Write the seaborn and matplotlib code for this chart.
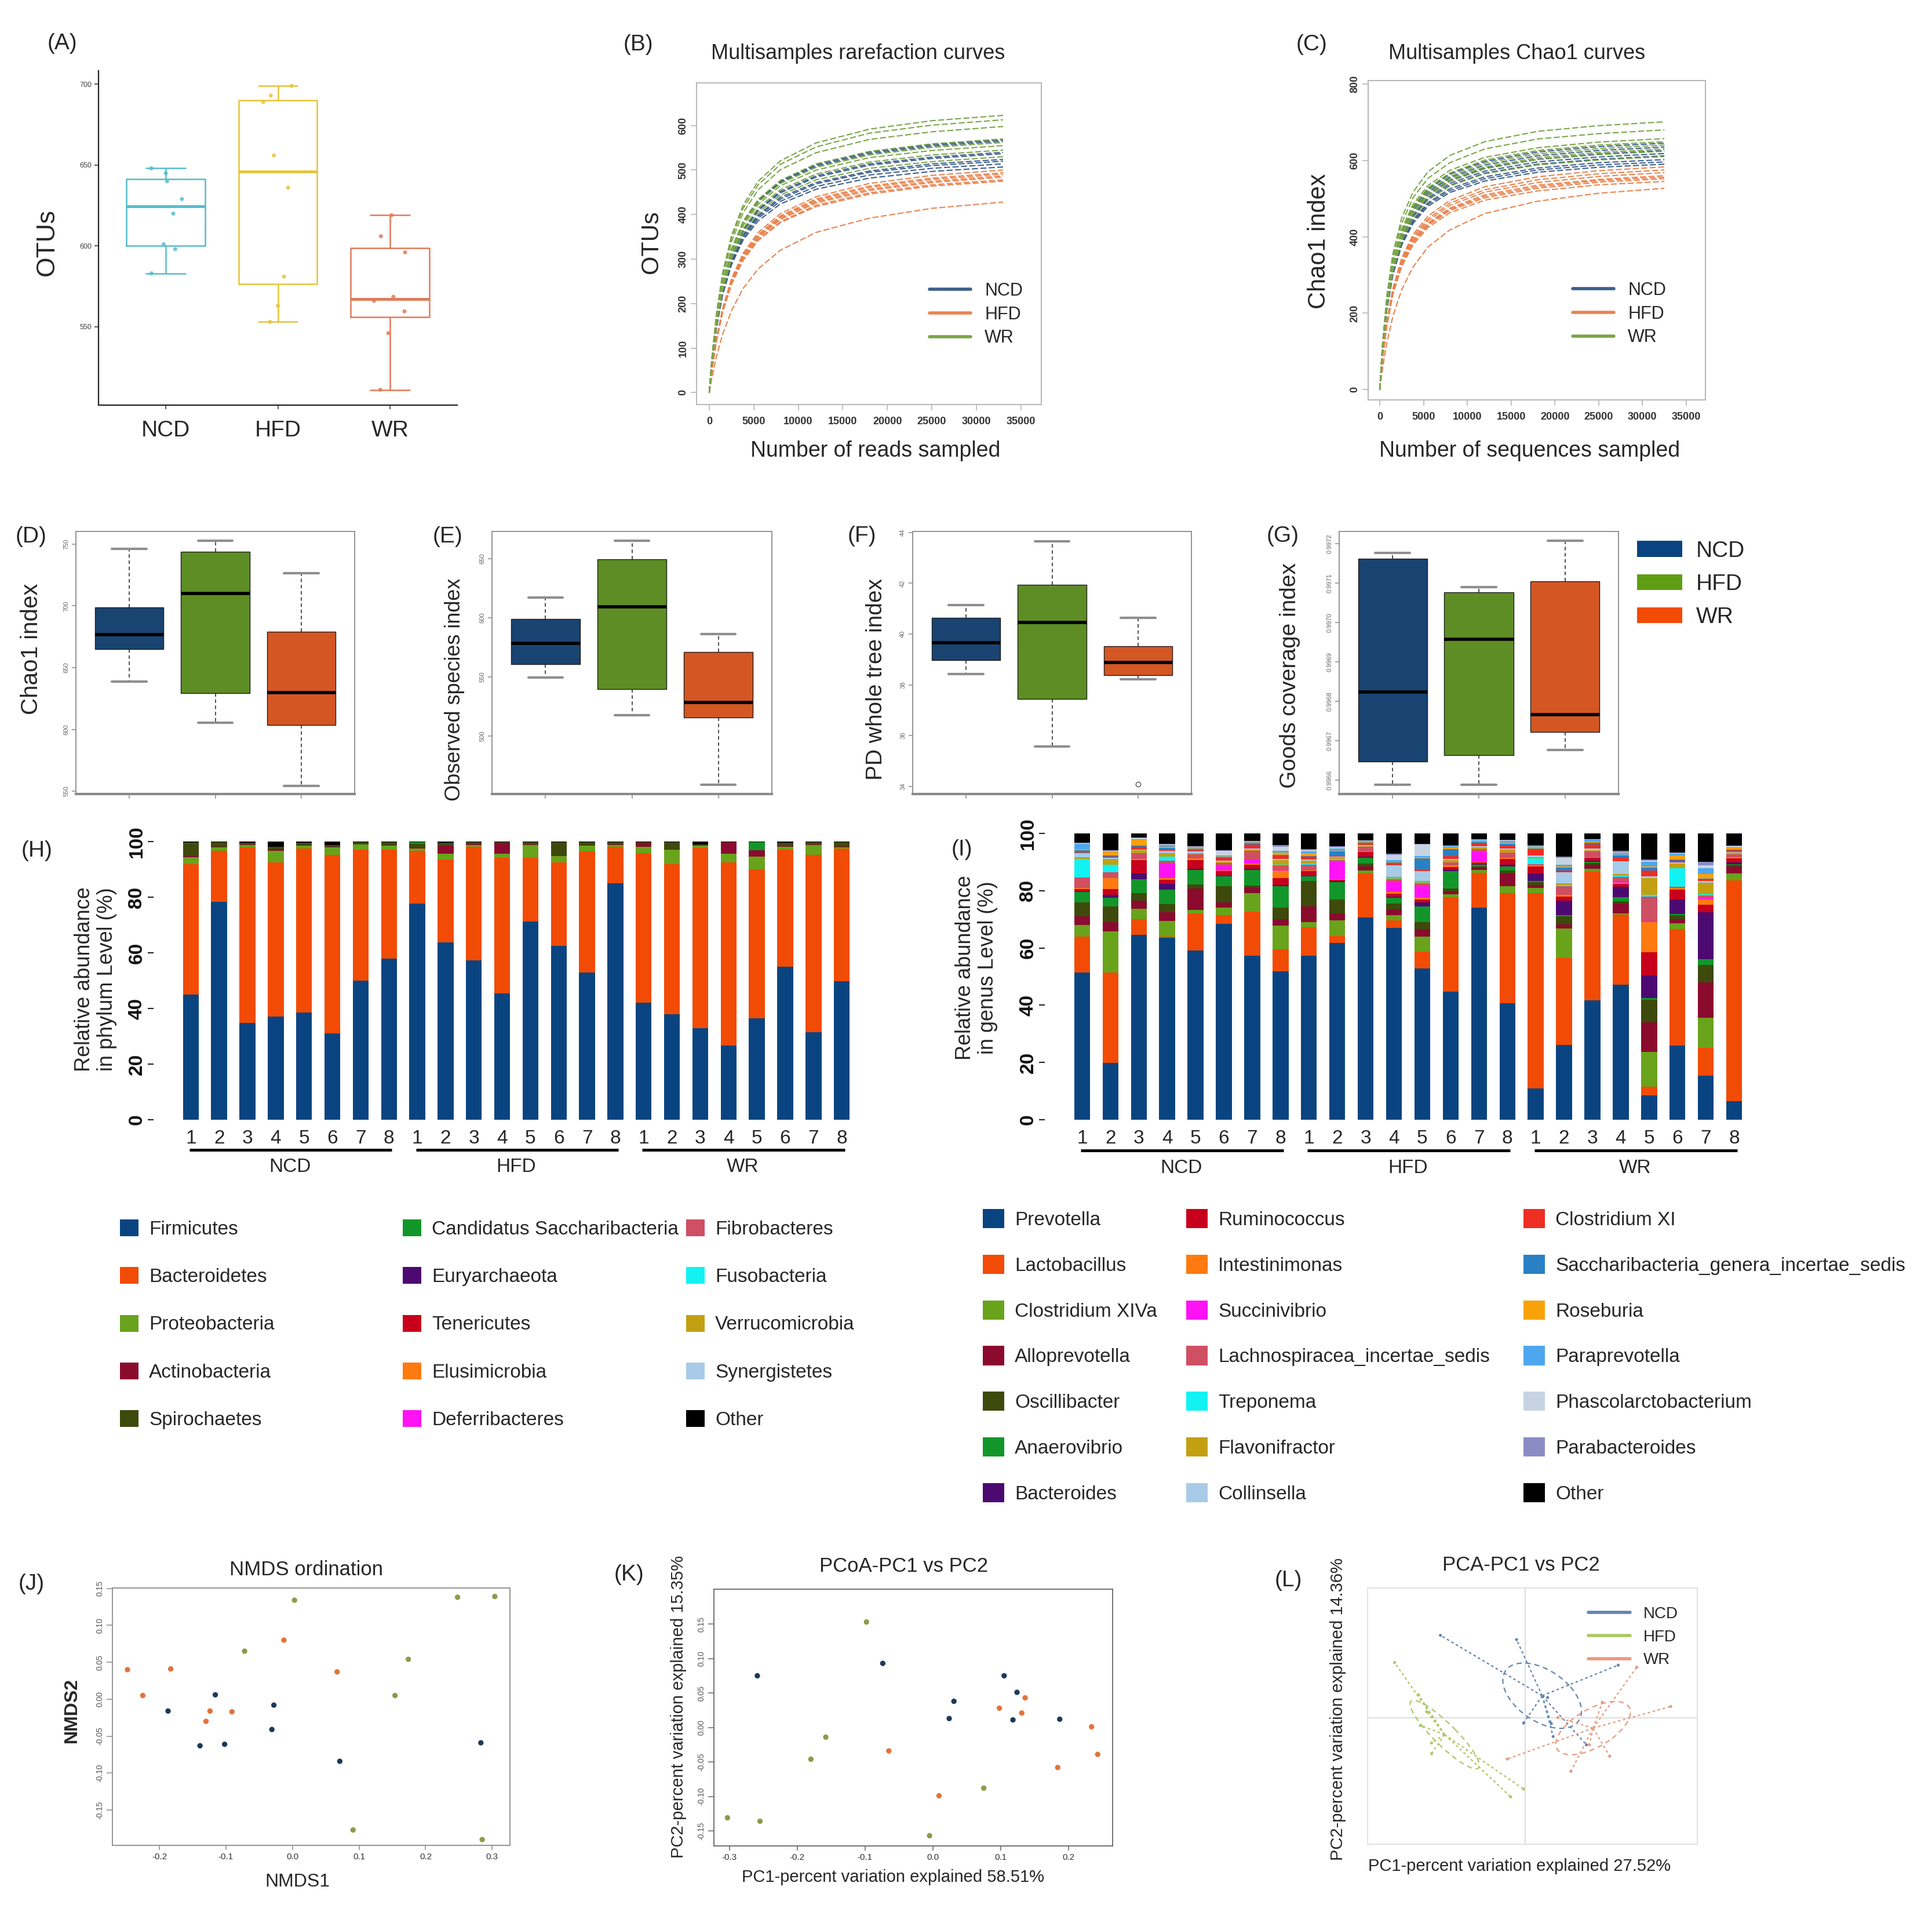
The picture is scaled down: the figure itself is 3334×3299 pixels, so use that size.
import numpy as np
import pandas as pd
import matplotlib
matplotlib.use("Agg")
import matplotlib.pyplot as plt
from matplotlib.lines import Line2D
from matplotlib.patches import Patch, Ellipse
import seaborn as sns

sns.set_theme(style="white")
plt.rcParams['font.family'] = ['Liberation Sans', 'DejaVu Sans']
plt.rcParams['axes.unicode_minus'] = False

groups = ['NCD', 'HFD', 'WR']

# ---------------- (A) OTUs ----------------
otus_ncd = [583, 598, 601, 620, 629, 640, 645, 648]
otus_hfd = [553, 563, 581, 636, 656, 689, 693, 699]
otus_wr = [511, 546, 559.5, 566, 568.5, 596, 606, 619]

# ---------------- (B) rarefaction curves ----------------
reads_b = [0, 300, 800, 1500, 2500, 3800, 5500, 8000, 12000, 18000, 25000, 33000]
rare_ncd = [
    [0, 73, 161, 245, 322, 384, 433, 475, 512, 540, 557, 568],
    [0, 72, 160, 244, 320, 382, 431, 473, 509, 537, 554, 565],
    [0, 69, 153, 233, 306, 365, 411, 452, 487, 514, 529, 540],
    [0, 69, 153, 232, 304, 363, 409, 449, 484, 511, 526, 537],
    [0, 67, 149, 226, 297, 354, 399, 439, 472, 498, 514, 524],
    [0, 67, 148, 225, 295, 352, 396, 435, 469, 495, 510, 520],
    [0, 66, 146, 222, 291, 347, 392, 430, 463, 489, 504, 514],
    [0, 65, 144, 219, 287, 343, 386, 424, 457, 482, 497, 507]]
rare_hfd = [
    [0, 53, 121, 189, 256, 313, 360, 402, 440, 470, 488, 500],
    [0, 52, 119, 187, 253, 309, 355, 397, 435, 464, 482, 494],
    [0, 52, 118, 186, 251, 307, 353, 395, 432, 461, 479, 491],
    [0, 51, 117, 184, 249, 304, 350, 392, 429, 457, 475, 487],
    [0, 51, 117, 183, 248, 303, 348, 389, 426, 454, 472, 484],
    [0, 50, 115, 181, 245, 299, 344, 384, 421, 449, 467, 478],
    [0, 50, 114, 180, 243, 297, 342, 382, 418, 446, 464, 475],
    [0, 33, 80, 131, 184, 234, 278, 320, 360, 392, 414, 428]]
rare_wr = [
    [0, 80, 177, 269, 353, 421, 475, 521, 561, 592, 611, 623],
    [0, 78, 174, 265, 348, 414, 467, 513, 552, 583, 601, 613],
    [0, 77, 170, 258, 339, 404, 456, 501, 539, 569, 586, 598],
    [0, 73, 162, 246, 323, 385, 434, 477, 514, 542, 559, 570],
    [0, 72, 160, 243, 319, 380, 428, 470, 506, 534, 551, 562],
    [0, 71, 158, 240, 315, 375, 423, 465, 500, 528, 544, 555],
    [0, 70, 155, 235, 309, 368, 415, 456, 491, 518, 534, 545],
    [0, 68, 151, 229, 301, 358, 404, 444, 478, 504, 519, 530]]

# ---------------- (C) Chao1 curves ----------------
reads_c = [0, 300, 800, 1500, 2500, 3800, 5500, 8000, 12000, 18000, 25000, 32500]
chao_ncd = [
    [0, 107, 226, 328, 413, 476, 524, 564, 597, 622, 636, 645],
    [0, 105, 222, 323, 406, 469, 516, 555, 588, 612, 626, 635],
    [0, 104, 219, 318, 401, 462, 509, 547, 580, 603, 617, 626],
    [0, 103, 216, 314, 396, 456, 502, 540, 572, 596, 609, 618],
    [0, 102, 214, 311, 392, 452, 498, 535, 567, 590, 603, 612],
    [0, 100, 211, 306, 385, 444, 489, 526, 557, 580, 594, 602],
    [0, 99, 209, 303, 381, 440, 485, 521, 552, 575, 588, 596],
    [0, 98, 206, 300, 378, 435, 480, 516, 546, 569, 582, 590]]
chao_hfd = [
    [0, 80, 177, 265, 344, 406, 454, 495, 531, 557, 573, 583],
    [0, 79, 174, 262, 339, 400, 447, 488, 523, 549, 565, 575],
    [0, 78, 172, 258, 335, 395, 442, 482, 517, 542, 558, 568],
    [0, 77, 170, 255, 330, 390, 436, 475, 510, 535, 550, 560],
    [0, 77, 168, 253, 328, 387, 433, 472, 506, 531, 547, 556],
    [0, 76, 167, 251, 326, 384, 429, 469, 502, 527, 543, 552],
    [0, 75, 165, 248, 322, 379, 424, 463, 496, 520, 536, 545],
    [0, 52, 121, 192, 261, 321, 373, 418, 461, 493, 514, 527]]
chao_wr = [
    [0, 116, 245, 356, 449, 517, 570, 613, 649, 676, 691, 701],
    [0, 113, 238, 345, 435, 502, 553, 594, 630, 656, 670, 680],
    [0, 109, 230, 334, 420, 485, 534, 574, 608, 633, 648, 657],
    [0, 108, 227, 330, 415, 479, 528, 567, 601, 626, 640, 649],
    [0, 106, 224, 325, 410, 472, 520, 559, 593, 617, 631, 640],
    [0, 105, 220, 320, 403, 465, 512, 551, 583, 607, 621, 630],
    [0, 104, 218, 317, 399, 461, 507, 545, 578, 602, 615, 624],
    [0, 101, 214, 310, 390, 450, 496, 533, 565, 588, 601, 610]]

# ---------------- (D-G) alpha diversity ----------------
chao1_ncd = [638.8, 664, 665.3, 674, 679.2, 698.5, 700.1, 746]
chao1_hfd = [605.4, 627, 630.2, 700, 720, 742, 750, 752.8]
chao1_wr = [554.3, 601, 604.6, 622, 638, 676, 688.5, 726.5]
obs_ncd = [549.4, 560, 561, 574, 582, 598, 601.5, 617]
obs_hfd = [517.5, 537, 540.2, 598, 620.6, 648, 654, 664.9]
obs_wr = [458.8, 514, 516.1, 524, 532.2, 568, 579.5, 586.2]
pd_ncd = [38.42, 38.9, 39.0, 39.5, 39.8, 40.6, 40.8, 41.13]
pd_hfd = [35.58, 37.3, 37.5, 40.1, 40.8, 41.9, 42.1, 43.66]
pd_wr = [34.09, 38.23, 38.44, 38.8, 38.98, 39.5, 39.62, 40.63]
goods_ncd = [0.996589, 0.996640, 0.996649, 0.996800, 0.996848, 0.997160, 0.997170, 0.997177]
goods_hfd = [0.996589, 0.996660, 0.996664, 0.996940, 0.996976, 0.997074, 0.997082, 0.997090]
goods_wr = [0.996677, 0.996718, 0.996723, 0.996755, 0.996777, 0.997100, 0.997116, 0.997207]

# ---------------- (H) phylum level (%) ----------------
sample_labels = ['1', '2', '3', '4', '5', '6', '7', '8'] * 3
p_firmicutes = [45.0, 78.4, 34.7, 37.0, 38.6, 31.0, 50.0, 58.0, 77.8, 63.8, 57.2, 45.5,
                71.2, 62.6, 52.9, 84.9, 42.0, 38.0, 32.9, 26.6, 36.5, 55.1, 31.4, 49.8]
p_bacteroidetes = [46.8, 18.3, 63.2, 55.4, 58.9, 64.2, 47.1, 39.1, 18.9, 29.8, 40.9, 48.7,
                   23.0, 30.0, 43.6, 13.3, 53.9, 53.8, 64.8, 65.8, 53.6, 42.0, 63.8, 47.6]
p_proteobacteria = [2.5, 1.3, 0.8, 4.3, 1.0, 2.8, 1.8, 1.4, 0.8, 2.0, 0.7, 1.5,
                    4.5, 2.2, 2.0, 0.5, 2.2, 5.3, 0.8, 3.3, 4.4, 1.0, 3.6, 0.5]
p_actinobacteria = [0.5, 0.2, 0.3, 0.5, 0.2, 0.2, 0.1, 0.2, 0.2, 3.0, 0.3, 3.8,
                    0.2, 0.2, 0.2, 0.3, 1.4, 0.2, 0.3, 4.0, 2.4, 0.2, 0.2, 0.2]
p_spirochaetes = [4.5, 1.5, 0.5, 1.0, 0.8, 0.5, 0.7, 1.0, 1.5, 1.0, 0.6, 0.2,
                  0.8, 4.7, 1.0, 0.7, 0.2, 2.4, 0.2, 0.0, 0.0, 1.2, 0.7, 1.6]
p_saccharibacteria = [0.2, 0, 0, 0, 0, 0, 0, 0, 0.5, 0, 0, 0,
                      0, 0, 0, 0, 0, 0, 0, 0, 2.8, 0, 0, 0]
p_euryarchaeota = [0.0] * 24
p_tenericutes = [0.0] * 24
p_elusimicrobia = [0.0] * 24
p_deferribacteres = [0.0] * 24
p_fibrobacteres = [0.0] * 24
p_fusobacteria = [0.0] * 24
p_verrucomicrobia = [0.0] * 24
p_synergistetes = [0.0] * 24
p_other = [0.5, 0.3, 0.5, 1.8, 0.5, 1.3, 0.3, 0.3, 0.3, 0.4, 0.3, 0.3,
           0.3, 0.3, 0.3, 0.3, 0.3, 0.3, 1.0, 0.3, 0.3, 0.5, 0.3, 0.3]

phyla = ['Firmicutes', 'Bacteroidetes', 'Proteobacteria', 'Actinobacteria', 'Spirochaetes',
         'Candidatus Saccharibacteria', 'Euryarchaeota', 'Tenericutes', 'Elusimicrobia',
         'Deferribacteres', 'Fibrobacteres', 'Fusobacteria', 'Verrucomicrobia',
         'Synergistetes', 'Other']
phyla_values = [p_firmicutes, p_bacteroidetes, p_proteobacteria, p_actinobacteria,
                p_spirochaetes, p_saccharibacteria, p_euryarchaeota, p_tenericutes,
                p_elusimicrobia, p_deferribacteres, p_fibrobacteres, p_fusobacteria,
                p_verrucomicrobia, p_synergistetes, p_other]
phyla_colors = ['#0a4480', '#f24b05', '#69a31c', '#8a0b2e', '#3e4a0c', '#12962a', '#4c0a70',
                '#c8001c', '#ff7a10', '#ff12f4', '#cf4f63', '#12f2f2', '#c2a012', '#a8cbe8',
                '#000000']

# ---------------- (I) genus level (%) ----------------
g_prevotella = [51.4, 19.8, 64.6, 63.6, 59.2, 68.4, 57.2, 51.8, 57.2, 61.8, 70.6, 67.0,
                52.8, 44.8, 74.0, 40.6, 11.0, 26.2, 41.6, 47.2, 8.6, 26.0, 15.4, 6.4]
g_lactobacillus = [12.6, 31.6, 5.4, 0.4, 12.8, 3.0, 15.4, 7.8, 10.0, 2.4, 15.4, 2.6,
                   6.0, 33.0, 12.2, 38.6, 68.2, 30.2, 45.0, 24.4, 3.0, 40.6, 9.6, 77.2]
g_clos_xiva = [4.0, 14.4, 3.6, 5.4, 1.2, 2.6, 6.6, 8.2, 1.8, 5.4, 1.0, 1.9,
               5.2, 1.0, 1.0, 2.3, 1.8, 10.4, 1.0, 0.5, 12.0, 2.0, 10.6, 2.4]
g_alloprevotella = [3.0, 3.2, 3.0, 3.0, 7.5, 2.0, 1.8, 2.2, 5.5, 2.4, 1.5, 2.0,
                    2.5, 1.0, 0.8, 4.5, 1.0, 1.5, 1.5, 3.4, 10.4, 1.5, 12.4, 2.5]
g_oscillibacter = [5.0, 5.5, 2.5, 3.0, 1.5, 5.5, 0.8, 4.0, 9.0, 5.0, 1.0, 2.0,
                   2.5, 1.0, 0.5, 1.0, 1.0, 2.7, 0.5, 0.8, 8.0, 1.3, 6.0, 0.5]
g_anaerovibrio = [3.5, 3.0, 5.0, 5.0, 5.0, 3.5, 5.5, 7.5, 1.5, 6.0, 2.0, 2.0,
                  5.5, 6.0, 0.5, 1.5, 0.5, 0.5, 0.5, 1.5, 0.5, 0.5, 2.0, 0.3]
g_bacteroides = [0.3, 1.0, 2.0, 2.0, 0.5, 0.3, 0.3, 0.5, 0.3, 0.3, 0.5, 0.5,
                 1.5, 0.5, 0.3, 0.5, 2.5, 5.0, 0.3, 3.5, 8.0, 5.0, 16.5, 0.5]
g_ruminococcus = [0.8, 2.0, 4.5, 1.5, 3.0, 1.5, 1.5, 2.5, 1.5, 0.5, 1.5, 1.0,
                  1.0, 1.0, 0.5, 2.0, 2.5, 1.5, 1.0, 1.0, 8.0, 3.5, 2.5, 1.5]
g_intestinimonas = [0.3, 4.0, 0.5, 0.5, 0.5, 0.3, 0.3, 2.5, 0.3, 0.3, 0.3, 0.5,
                    0.5, 0.5, 0.3, 0.5, 0.3, 0.5, 0.3, 0.5, 10.5, 0.5, 2.0, 0.5]
g_succinivibrio = [0.2, 0.0, 0.0, 5.0, 0.0, 1.5, 1.5, 0.3, 0.0, 6.0, 0.0, 3.5,
                   4.0, 0.0, 3.5, 0.3, 0.0, 0.0, 0.0, 0.5, 0.5, 0.0, 0.3, 0.0]
g_lachnospiracea = [3.5, 2.0, 2.0, 1.0, 1.5, 1.0, 3.0, 1.5, 2.0, 0.5, 1.5, 1.0,
                    1.0, 1.0, 1.0, 1.5, 0.5, 3.0, 2.0, 1.5, 8.5, 0.5, 1.0, 1.0]
g_treponema = [6.5, 2.5, 0.0, 1.5, 0.0, 0.0, 0.0, 0.3, 0.3, 0.5, 0.0, 0.3,
               0.3, 0.0, 0.0, 0.0, 2.0, 0.5, 0.0, 0.5, 0.5, 6.5, 0.5, 0.0]
g_flavonifractor = [0.5, 2.0, 1.0, 1.2, 0.5, 0.5, 0.5, 1.5, 1.0, 0.5, 0.3, 0.5,
                    0.5, 0.8, 0.5, 1.0, 0.5, 0.5, 0.5, 0.5, 6.0, 1.5, 4.0, 0.5]
g_collinsella = [1.5, 0.5, 0.3, 0.8, 0.5, 0.3, 0.3, 0.5, 0.5, 0.3, 0.3, 4.0,
                 3.5, 0.5, 0.5, 0.5, 0.5, 4.0, 0.5, 4.5, 0.5, 0.5, 0.5, 0.3]
g_clos_xi = [0.3, 0.5, 1.0, 0.5, 0.5, 1.0, 1.5, 1.0, 1.0, 0.3, 0.5, 0.5,
             0.5, 1.0, 1.0, 1.0, 2.0, 0.5, 1.5, 1.5, 2.0, 0.5, 0.5, 0.5]
g_saccharibacteria = [0.8, 0.3, 0.3, 0.5, 0.3, 0.3, 0.3, 0.5, 0.3, 1.5, 0.3, 0.5,
                      4.0, 2.5, 0.3, 0.5, 0.5, 1.0, 0.5, 0.5, 1.0, 0.5, 0.5, 0.3]
g_roseburia = [0.3, 1.2, 2.0, 0.5, 0.3, 0.3, 0.3, 0.8, 1.0, 0.3, 0.3, 0.3,
               0.3, 0.5, 0.3, 0.5, 0.5, 0.5, 0.5, 0.3, 0.5, 1.5, 1.5, 0.5]
g_paraprevotella = [1.8, 0.3, 0.3, 0.5, 0.3, 0.3, 0.3, 0.5, 0.5, 0.7, 0.3, 0.5,
                    0.5, 0.5, 0.3, 0.5, 0.3, 0.5, 0.5, 0.5, 1.5, 0.5, 2.0, 0.3]
g_phascolarcto = [0.3, 0.2, 0.3, 0.3, 0.3, 1.7, 0.2, 1.5, 0.5, 0.5, 0.2, 2.0,
                  4.0, 0.2, 0.3, 0.3, 0.2, 2.5, 0.2, 0.3, 0.5, 0.3, 1.0, 0.3]
g_parabacteroides = [0.2, 0.2, 0.3, 0.2, 0.2, 0.2, 0.1, 0.6, 0.4, 0.4, 0.1, 0.4,
                     0.3, 0.0, 0.2, 0.2, 0.0, 0.5, 0.1, 0.6, 0.3, 0.2, 1.2, 0.3]
g_other = [3.2, 5.8, 1.4, 3.6, 4.4, 5.8, 2.6, 4.0, 5.4, 4.4, 2.4, 7.0,
           3.6, 4.2, 2.0, 2.2, 4.2, 8.0, 2.0, 6.0, 9.2, 6.6, 10.0, 4.2]

genera = ['Prevotella', 'Lactobacillus', 'Clostridium XIVa', 'Alloprevotella', 'Oscillibacter',
          'Anaerovibrio', 'Bacteroides', 'Ruminococcus', 'Intestinimonas', 'Succinivibrio',
          'Lachnospiracea_incertae_sedis', 'Treponema', 'Flavonifractor', 'Collinsella',
          'Clostridium XI', 'Saccharibacteria_genera_incertae_sedis', 'Roseburia',
          'Paraprevotella', 'Phascolarctobacterium', 'Parabacteroides', 'Other']
genera_values = [g_prevotella, g_lactobacillus, g_clos_xiva, g_alloprevotella, g_oscillibacter,
                 g_anaerovibrio, g_bacteroides, g_ruminococcus, g_intestinimonas,
                 g_succinivibrio, g_lachnospiracea, g_treponema, g_flavonifractor,
                 g_collinsella, g_clos_xi, g_saccharibacteria, g_roseburia, g_paraprevotella,
                 g_phascolarcto, g_parabacteroides, g_other]
genera_colors = ['#0a4480', '#f24b05', '#69a31c', '#8a0b2e', '#3e4a0c', '#12962a', '#4c0a70',
                 '#c8001c', '#ff7a10', '#ff12f4', '#cf4f63', '#12f2f2', '#c2a012', '#a8cbe8',
                 '#ee2e22', '#2a80c4', '#f8a20a', '#4ea6ee', '#c6d4e2', '#8c8cc4', '#000000']

# ---------------- (J) NMDS ----------------
nmds_ncd_x = [-0.116, -0.187, -0.028, -0.031, -0.139, -0.102, 0.071, 0.283]
nmds_ncd_y = [0.006, -0.016, -0.008, -0.041, -0.063, -0.061, -0.084, -0.059]
nmds_hfd_x = [-0.248, -0.183, -0.225, -0.124, -0.091, -0.130, -0.013, 0.067]
nmds_hfd_y = [0.040, 0.041, 0.005, -0.016, -0.017, -0.030, 0.080, 0.037]
nmds_wr_x = [0.003, -0.072, 0.174, 0.154, 0.248, 0.304, 0.091, 0.285]
nmds_wr_y = [0.134, 0.065, 0.054, 0.005, 0.138, 0.139, -0.177, -0.190]

# ---------------- (K) PCoA ----------------
pcoa_ncd_x = [-0.259, -0.074, 0.105, 0.124, 0.031, 0.024, 0.118, 0.187]
pcoa_ncd_y = [0.075, 0.093, 0.075, 0.051, 0.038, 0.013, 0.011, 0.012]
pcoa_hfd_x = [0.136, 0.098, 0.131, 0.234, 0.243, 0.184, 0.009, -0.065]
pcoa_hfd_y = [0.043, 0.028, 0.021, 0.001, -0.039, -0.058, -0.099, -0.034]
pcoa_wr_x = [-0.098, -0.158, -0.180, -0.303, -0.255, -0.005, 0.075]
pcoa_wr_y = [0.153, -0.014, -0.046, -0.131, -0.136, -0.157, -0.088]

# ---------------- (L) PCA ----------------
pca_ncd_x = [-2.30, -0.24, 2.51, -0.05, 0.60, 0.70, 0.75, 1.65]
pca_ncd_y = [3.48, 3.30, 2.22, -0.23, 0.85, -0.25, -0.80, -1.15]
pca_hfd_x = [-3.54, -2.89, -2.67, -2.84, -2.54, -2.54, -0.40, -0.05]
pca_hfd_y = [2.33, 0.97, 0.25, -0.33, -1.07, -1.52, -3.35, -3.02]
pca_wr_x = [3.01, 3.93, 2.28, 1.23, -0.49, 0.88, 1.73, 2.08]
pca_wr_y = [2.13, 0.47, -1.63, -2.27, -1.75, 0.0, -1.15, 0.65]

# colours
a_pal = {'NCD': '#56bccb', 'HFD': '#e6c437', 'WR': '#e07a58'}
curve_pal = {'NCD': '#3d5f8c', 'HFD': '#e8844f', 'WR': '#7aa547'}
box_pal = {'NCD': '#0a4480', 'HFD': '#5f9e14', 'WR': '#f24b05'}
ord_pal = {'NCD': '#1d3a5a', 'HFD': '#e0743a', 'WR': '#8a9c4a'}
pca_pal = {'NCD': '#6684ad', 'HFD': '#adc765', 'WR': '#e99a80'}

# ---------------- figure ----------------
W, H = 3334, 3299
fig = plt.figure(figsize=(W / 100, H / 100), dpi=100)


def px_axes(l, t, r, b):
    return fig.add_axes([l / W, 1 - b / H, (r - l) / W, (b - t) / H])


def ptext(x, y, s, **kw):
    kw.setdefault('ha', 'center')
    kw.setdefault('va', 'center')
    fig.text(x / W, 1 - y / H, s, **kw)


def r_frame(ax, color='#7a7a7a', lw=1.3):
    for s in ax.spines.values():
        s.set_visible(True)
        s.set_color(color)
        s.set_linewidth(lw)
    ax.tick_params(bottom=True, left=True, direction='out', length=7, width=1.1,
                   color=color, labelcolor='#333333')
    ax.set_xlabel('')
    ax.set_ylabel('')


def rot_y(ax, size, weight='normal', color='#333333'):
    for lab in ax.get_yticklabels():
        lab.set_rotation(90)
        lab.set_va('center')
        lab.set_fontsize(size)
        lab.set_fontweight(weight)
        lab.set_color(color)


def long_curves(x, curve_sets):
    rows = []
    for g, curves in zip(groups, curve_sets):
        for i, c in enumerate(curves):
            for xv, yv in zip(x, c):
                rows.append((g, g + str(i + 1), xv, yv))
    return pd.DataFrame(rows, columns=['group', 'sample', 'x', 'y'])


def group_frame(a, b, c):
    return pd.DataFrame({'group': ['NCD'] * len(a) + ['HFD'] * len(b) + ['WR'] * len(c),
                         'v': list(a) + list(b) + list(c)})


def scatter_frame(xs, ys):
    rows = []
    for g, xv, yv in zip(groups, xs, ys):
        for a, b in zip(xv, yv):
            rows.append((g, a, b))
    return pd.DataFrame(rows, columns=['group', 'x', 'y'])


# ---------- (A) ----------
axA = px_axes(170, 122, 789, 699)
dfA = group_frame(otus_ncd, otus_hfd, otus_wr)
sns.boxplot(data=dfA, x='group', y='v', hue='group', palette=a_pal, fill=False, width=0.7,
            linewidth=1.8, showfliers=False, medianprops={'linewidth': 3.5},
            legend=False, ax=axA)
np.random.seed(7)
sns.stripplot(data=dfA, x='group', y='v', hue='group', palette=a_pal, jitter=0.15, size=5,
              alpha=0.85, legend=False, ax=axA)
axA.set_xlim(-0.6, 2.6)
axA.set_ylim(501.5, 708.4)
axA.set_yticks([550, 600, 650, 700])
for s in ['top', 'right']:
    axA.spines[s].set_visible(False)
for s in ['left', 'bottom']:
    axA.spines[s].set_color('#222222')
    axA.spines[s].set_linewidth(1.6)
axA.tick_params(bottom=True, left=True, length=5, color='#444444')
axA.tick_params(axis='y', labelsize=9, labelcolor='#444444')
axA.tick_params(axis='x', labelsize=28, pad=14)
axA.set_xlabel('')
axA.set_ylabel('')
ptext(81, 418, 'OTUs', fontsize=32, rotation=90)
ptext(107, 75, '(A)', fontsize=28)

# ---------- (B) ----------
axB = px_axes(1202, 143, 1797, 698)
dfB = long_curves(reads_b, [rare_ncd, rare_hfd, rare_wr])
sns.lineplot(data=dfB, x='x', y='y', hue='group', units='sample', estimator=None,
             palette=curve_pal, linewidth=1.5, linestyle=(0, (5, 2)), legend=False,
             sort=False, ax=axB)
axB.set_xlim(-1430, 37300)
axB.set_ylim(-27, 696)
axB.set_xticks(range(0, 35001, 5000))
axB.set_yticks(range(0, 601, 100))
r_frame(axB, color='#b0b0b0')
axB.tick_params(axis='x', labelsize=13, pad=8)
for lab in axB.get_xticklabels():
    lab.set_fontweight('bold')
rot_y(axB, 13, 'bold')
axB.legend(handles=[Line2D([], [], color=curve_pal[g], lw=4) for g in groups], labels=groups,
           loc='upper left', bbox_to_anchor=(0.63, 0.43), frameon=False, fontsize=22,
           handlelength=2.3, labelspacing=0.35)
ptext(1481, 92, 'Multisamples rarefaction curves', fontsize=26)
ptext(1124, 418, 'OTUs', fontsize=30, rotation=90)
ptext(1511, 778, 'Number of reads sampled', fontsize=27)
ptext(1101, 77, '(B)', fontsize=28)

# ---------- (C) ----------
axC = px_axes(2361, 139, 2943, 690)
dfC = long_curves(reads_c, [chao_ncd, chao_hfd, chao_wr])
sns.lineplot(data=dfC, x='x', y='y', hue='group', units='sample', estimator=None,
             palette=curve_pal, linewidth=1.5, linestyle=(0, (5, 2)), legend=False,
             sort=False, ax=axC)
axC.set_xlim(-1323, 37190)
axC.set_ylim(-27, 809)
axC.set_xticks(range(0, 35001, 5000))
axC.set_yticks(range(0, 801, 200))
r_frame(axC, color='#b0b0b0')
axC.tick_params(axis='x', labelsize=13, pad=8)
for lab in axC.get_xticklabels():
    lab.set_fontweight('bold')
rot_y(axC, 13, 'bold')
axC.legend(handles=[Line2D([], [], color=curve_pal[g], lw=4) for g in groups], labels=groups,
           loc='upper left', bbox_to_anchor=(0.56, 0.42), frameon=False, fontsize=22,
           handlelength=2.3, labelspacing=0.35)
ptext(2618, 92, 'Multisamples Chao1 curves', fontsize=26)
ptext(2276, 416, 'Chao1 index', fontsize=30, rotation=90)
ptext(2640, 778, 'Number of sequences sampled', fontsize=27)
ptext(2263, 77, '(C)', fontsize=28)

# ---------- (D)-(G) ----------
alpha_panels = [
    ('(D)', 'Chao1 index', (131, 612), (chao1_ncd, chao1_hfd, chao1_wr), (547.7, 760.3),
     [550, 600, 650, 700, 750], '{:.0f}', (54, 926), (54, 1120), 29),
    ('(E)', 'Observed species index', (849, 1332), (obs_ncd, obs_hfd, obs_wr), (450.8, 672.8),
     [500, 550, 600, 650], '{:.0f}', (772, 926), (784, 1190), 26),
    ('(F)', 'PD whole tree index', (1575, 2056), (pd_ncd, pd_hfd, pd_wr), (33.7, 44.04),
     [34, 36, 38, 40, 42, 44], '{:.0f}', (1487, 925), (1512, 1172), 28),
    ('(G)', 'Goods coverage index', (2311, 2793), (goods_ncd, goods_hfd, goods_wr),
     (0.996565, 0.997231), [0.9966, 0.9967, 0.9968, 0.9969, 0.9970, 0.9971, 0.9972],
     '{:.4f}', (2214, 925), (2226, 1165), 28),
]
for letter, ylab, (l, r), vals, ylim, yt, fmt, lpos, ypos, yfs in alpha_panels:
    ax = px_axes(l, 917, r, 1370)
    dfa = group_frame(*vals)
    sns.boxplot(data=dfa, x='group', y='v', hue='group', palette=box_pal, width=0.8,
                linecolor='#1e1e1e', linewidth=1.0, legend=False, ax=ax,
                medianprops={'color': '#000000', 'linewidth': 4},
                whiskerprops={'linestyle': (0, (4, 3)), 'linewidth': 1.1},
                capprops={'color': '#8e8e8e', 'linewidth': 3},
                flierprops={'marker': 'o', 'markersize': 6, 'markerfacecolor': 'none',
                            'markeredgecolor': '#555555'})
    ax.set_xlim(-0.62, 2.62)
    ax.set_ylim(*ylim)
    ax.set_yticks(yt)
    ax.set_yticklabels([fmt.format(v) for v in yt])
    r_frame(ax, color='#8a8a8a')
    ax.spines['bottom'].set_linewidth(3)
    ax.tick_params(axis='x', labelbottom=False, length=6)
    ax.tick_params(axis='y', length=5)
    rot_y(ax, 8, color='#666666')
    ptext(ypos[0], ypos[1], ylab, fontsize=yfs, rotation=90)
    ptext(lpos[0], lpos[1], letter, fontsize=28)
    if letter == '(G)':
        ax.legend(handles=[Patch(facecolor=box_pal[g], edgecolor='none') for g in groups],
                  labels=groups, loc='upper left', bbox_to_anchor=(1.035, 1.0),
                  frameon=False, fontsize=28, handlelength=2.0, handleheight=0.7,
                  labelspacing=0.55, handletextpad=0.6, borderaxespad=0)


# ---------- (H) / (I) stacked bars ----------
def stacked_panel(ax, names, values, colors):
    rows = []
    for name, v in zip(names, values):
        for i, pct in enumerate(v):
            rows.append((i, name, pct))
    df = pd.DataFrame(rows, columns=['pos', 'taxon', 'pct'])
    sns.histplot(data=df, x='pos', weights='pct', hue='taxon', hue_order=names[::-1],
                 palette=dict(zip(names, colors)), multiple='stack', discrete=True,
                 shrink=0.56, linewidth=0, alpha=1, legend=False, ax=ax)
    ax.set_xlim(-0.6, 23.6)
    ax.set_ylim(0, 100)
    for s in ax.spines.values():
        s.set_visible(False)
    ax.spines['left'].set_position(('outward', 25))
    ax.set_xticks(range(24))
    ax.set_xticklabels(sample_labels)
    ax.set_yticks([0, 20, 40, 60, 80, 100])
    ax.tick_params(axis='x', bottom=False, labelsize=24, pad=6)
    ax.tick_params(axis='y', left=True, length=7, width=1.5, color='#222222', pad=3)
    rot_y(ax, 24, 'bold', '#111111')
    ax.set_xlabel('')
    ax.set_ylabel('')
    tr = ax.get_xaxis_transform()
    for k, g in enumerate(groups):
        ax.plot([8 * k - 0.05, 8 * k + 7.1], [-0.108, -0.108], color='black', lw=3.5,
                transform=tr, clip_on=False, solid_capstyle='butt')
        ax.text(8 * k + 3.5, -0.17, g, transform=tr, ha='center', va='center', fontsize=24)


axH = px_axes(300, 1452, 1482, 1932)
stacked_panel(axH, phyla, phyla_values, phyla_colors)
ptext(165, 1690, 'Relative abundance\nin phylum Level (%)', fontsize=26, rotation=90,
      linespacing=1.15)
ptext(64, 1468, '(H)', fontsize=28)

axI = px_axes(1838, 1438, 3022, 1932)
stacked_panel(axI, genera, genera_values, genera_colors)
ptext(1685, 1670, 'Relative abundance\nin genus Level (%)', fontsize=26, rotation=90,
      linespacing=1.15)
ptext(1660, 1466, '(I)', fontsize=28)


def col_legend(names, colors, x, y, fs, hl, hh, ls):
    handles = [Patch(facecolor=c, edgecolor='none') for c in colors]
    fig.legend(handles, names, loc='upper left', bbox_to_anchor=(x / W, 1 - y / H),
               frameon=False, fontsize=fs, handlelength=hl, handleheight=hh,
               labelspacing=ls, handletextpad=0.55, borderpad=0, borderaxespad=0)


for k, x0 in enumerate([207, 695, 1184]):
    col_legend(phyla[5 * k:5 * k + 5], phyla_colors[5 * k:5 * k + 5], x0, 2104, 24, 0.96,
               0.96, 1.48)
for k, x0 in enumerate([1696, 2047, 2629]):
    col_legend(genera[7 * k:7 * k + 7], genera_colors[7 * k:7 * k + 7], x0, 2086, 24, 1.1,
               1.15, 1.32)

# ---------- (J) NMDS ----------
axJ = px_axes(194, 2740, 880, 3184)
dfJ = scatter_frame([nmds_ncd_x, nmds_hfd_x, nmds_wr_x], [nmds_ncd_y, nmds_hfd_y, nmds_wr_y])
sns.scatterplot(data=dfJ, x='x', y='y', hue='group', palette=ord_pal, s=45, edgecolor='none',
                legend=False, ax=axJ)
axJ.set_xlim(-0.2706, 0.3267)
axJ.set_ylim(-0.1978, 0.1505)
axJ.set_xticks([-0.2, -0.1, 0.0, 0.1, 0.2, 0.3])
axJ.set_yticks([-0.15, -0.10, -0.05, 0.00, 0.05, 0.10, 0.15])
axJ.set_yticklabels(['-0.15', '-0.10', '-0.05', '0.00', '0.05', '0.10', '0.15'])
r_frame(axJ, color='#8a8a8a')
axJ.tick_params(axis='x', labelsize=11, length=6)
rot_y(axJ, 10, color='#555555')
ptext(529, 2709, 'NMDS ordination', fontsize=25)
ptext(513, 3247, 'NMDS1', fontsize=23)
ptext(124, 2951, 'NMDS2', fontsize=23, rotation=90, fontweight='bold')
ptext(54, 2733, '(J)', fontsize=28)

# ---------- (K) PCoA ----------
axK = px_axes(1232, 2742, 1920, 3185)
dfK = scatter_frame([pcoa_ncd_x, pcoa_hfd_x, pcoa_wr_x], [pcoa_ncd_y, pcoa_hfd_y, pcoa_wr_y])
sns.scatterplot(data=dfK, x='x', y='y', hue='group', palette=ord_pal, s=45, edgecolor='none',
                legend=False, ax=axK)
axK.set_xlim(-0.323, 0.265)
axK.set_ylim(-0.1718, 0.2006)
axK.set_xticks([-0.3, -0.2, -0.1, 0.0, 0.1, 0.2])
axK.set_yticks([-0.15, -0.10, -0.05, 0.00, 0.05, 0.10, 0.15])
axK.set_yticklabels(['-0.15', '-0.10', '-0.05', '0.00', '0.05', '0.10', '0.15'])
r_frame(axK, color='#666666')
axK.tick_params(axis='x', labelsize=11, length=6)
rot_y(axK, 10, color='#555555')
ptext(1560, 2703, 'PCoA-PC1 vs PC2', fontsize=25)
ptext(1541, 3239, 'PC1-percent variation explained 58.51%', fontsize=21)
ptext(1171, 2945, 'PC2-percent variation explained 15.35%', fontsize=21, rotation=90)
ptext(1085, 2717, '(K)', fontsize=28)

# ---------- (L) PCA ----------
axL = px_axes(2360, 2740, 2929, 3182)
pca_x = [pca_ncd_x, pca_hfd_x, pca_wr_x]
pca_y = [pca_ncd_y, pca_hfd_y, pca_wr_y]
dfL = scatter_frame(pca_x, pca_y)
axL.axhline(0, color='#d8d8d8', lw=1.2, zorder=0)
axL.axvline(0, color='#d8d8d8', lw=1.2, zorder=0)
for g, xs, ys in zip(groups, pca_x, pca_y):
    xs = np.asarray(xs)
    ys = np.asarray(ys)
    cx, cy = xs.mean(), ys.mean()
    for a, b in zip(xs, ys):
        axL.plot([cx, a], [cy, b], color=pca_pal[g], lw=1.6, ls=(0, (2, 2)))
    cov = np.cov(xs, ys, bias=True)
    ev, evec = np.linalg.eigh(cov)
    ang = np.degrees(np.arctan2(evec[1, 1], evec[0, 1]))
    axL.add_patch(Ellipse((cx, cy), 2 * 0.8 * np.sqrt(ev[1]), 2 * 0.8 * np.sqrt(ev[0]),
                          angle=ang, fill=False, ec=pca_pal[g], lw=1.6, ls=(0, (4, 3))))
sns.scatterplot(data=dfL, x='x', y='y', hue='group', palette=pca_pal, s=14, edgecolor='none',
                legend=False, ax=axL)
axL.set_xlim(-4.27, 4.65)
axL.set_ylim(-5.35, 5.48)
r_frame(axL, color='#dddddd', lw=1.2)
axL.tick_params(bottom=False, left=False, labelbottom=False, labelleft=False)
axL.legend(handles=[Line2D([], [], color=pca_pal[g], lw=4) for g in groups], labels=groups,
           loc='upper right', bbox_to_anchor=(0.985, 0.985), frameon=False, fontsize=20,
           handlelength=2.6, labelspacing=0.5)
ptext(2625, 2701, 'PCA-PC1 vs PC2', fontsize=25)
ptext(2622, 3220, 'PC1-percent variation explained 27.52%', fontsize=21)
ptext(2309, 2949, 'PC2-percent variation explained 14.36%', fontsize=21, rotation=90)
ptext(2223, 2727, '(L)', fontsize=28)

fig.savefig('out.png', dpi=100, facecolor='white')
